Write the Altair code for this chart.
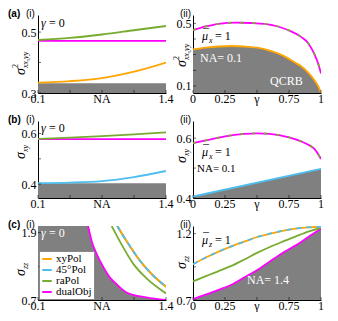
import altair as alt
import pandas as pd

SERIF = "Liberation Serif"
SANS = "Liberation Sans"
ORANGE = "#FFA500"
BLUE = "#4DBEEE"
GREEN = "#77AC30"
MAGENTA = "#FF00FF"
GRAY = "#808080"

W = 128
H_A, H_B, H_C = 78, 77, 74

# x tick positions and their labels
na_ticks = [0.1, 0.425, 0.75, 1.075, 1.4]
na_labels = ["0.1", "", "NA", "", "1.4"]
gamma_ticks = [0, 0.25, 0.5, 0.75, 1]
gamma_labels = ["0", "0.25", "γ", "0.75", "1"]

# ---------------- (a)(i)
a1_na = [0.1, 0.425, 0.75, 1.075, 1.4]
a1_xyPol = [0.334, 0.339, 0.349, 0.370, 0.400]
a1_raPol = [0.474, 0.481, 0.492, 0.506, 0.520]
a1_dualObj = [0.471, 0.471, 0.471, 0.471, 0.471]
a1_bound = [0.332, 0.332, 0.332, 0.332, 0.332]
a1_ydom = [0.3, 0.556]
a1_ylab = [0.3, 0.5]
a1_ytick = [0.3, 0.4, 0.5]

# ---------------- (a)(ii)
a2_gb = [0, 0.1, 0.2, 0.3, 0.4, 0.5, 0.6, 0.7, 0.8, 0.85, 0.9, 0.95, 0.98, 1.0]
a2_bound = [0.334, 0.345, 0.352, 0.355, 0.352, 0.344, 0.325, 0.295, 0.248, 0.223, 0.185, 0.135, 0.095, 0.055]
a2_g = [0, 0.1, 0.2, 0.33, 0.45, 0.56, 0.67, 0.77, 0.85, 0.9, 0.95, 0.975, 1.0]
a2_ra_dual = [0.457, 0.480, 0.497, 0.504, 0.502, 0.496, 0.478, 0.447, 0.410, 0.373, 0.300, 0.250, 0.180]
a2_ydom = [0.055, 0.553]
a2_ylab = [0.1, 0.5]
a2_ytick = [0.1, 0.2, 0.3, 0.4, 0.5]

# ---------------- (b)(i)
b1_na = [0.1, 0.425, 0.75, 1.075, 1.4]
b1_45Pol = [0.404, 0.406, 0.412, 0.428, 0.452]
b1_raPol = [0.579, 0.584, 0.590, 0.597, 0.605]
b1_dualObj = [0.578, 0.578, 0.578, 0.578, 0.578]
b1_bound = [0.403, 0.403, 0.403, 0.403, 0.403]
b1_ydom = [0.345, 0.65]
b1_ylab = [0.4, 0.6]
b1_ytick = [0.4, 0.5, 0.6]

# ---------------- (b)(ii)
b2_g = [0, 0.1, 0.25, 0.4, 0.5, 0.6, 0.75, 0.85, 0.9, 0.95, 1.0]
b2_ra_dual = [0.583, 0.592, 0.606, 0.614, 0.616, 0.614, 0.602, 0.588, 0.578, 0.563, 0.530]
b2_gb = [0, 1]
b2_45Pol = [0.405, 0.497]
b2_ydom = [0.4, 0.657]
b2_ylab = [0.4, 0.6]
b2_ytick = [0.4, 0.5, 0.6]

# ---------------- (c)(i)
c1_nab = [0.1, 0.608, 0.65, 0.696, 0.75, 0.831, 0.9, 1.0, 1.2, 1.4]
c1_bound = [2.02, 2.02, 1.72, 1.52, 1.33, 1.10, 0.98, 0.835, 0.746, 0.70]
c1_na_dual = [0.608, 0.65, 0.696, 0.75, 0.831, 0.9, 1.0, 1.2, 1.4]
c1_dualObj = [2.02, 1.72, 1.52, 1.33, 1.10, 0.98, 0.835, 0.746, 0.70]
c1_na_ra = [0.848, 0.93, 1.07, 1.2, 1.4]
c1_raPol = [2.02, 1.75, 1.34, 1.09, 0.817]
c1_na_xy = [0.905, 1.0, 1.136, 1.25, 1.4]
c1_xyPol = [2.02, 1.75, 1.40, 1.17, 0.936]
c1_ydom = [0.7, 2.02]
c1_ylab = [0.7, 1.9]
c1_ytick = [0.7, 1.3, 1.9]

# ---------------- (c)(ii)
c2_g = [0, 0.1, 0.2, 0.3, 0.4, 0.5, 0.6, 0.7, 0.8, 0.9, 1.0]
c2_xyPol = [0.970, 1.020, 1.065, 1.105, 1.140, 1.175, 1.200, 1.222, 1.238, 1.248, 1.252]
c2_raPol = [0.840, 0.880, 0.918, 0.957, 1.005, 1.055, 1.100, 1.140, 1.178, 1.215, 1.245]
c2_dualObj = [0.707, 0.740, 0.776, 0.815, 0.870, 0.925, 0.990, 1.055, 1.110, 1.175, 1.238]
c2_ydom = [0.7, 1.258]
c2_ylab = [0.7, 1.2]
c2_ytick = [0.7, 0.95, 1.2]

legend_names = ["xyPol", "45°Pol", "raPol", "dualObj"]
legend_colors = [ORANGE, BLUE, GREEN, MAGENTA]

LABEL_SIZE = 12


def sc(dom):
    return alt.Scale(domain=dom, nice=False, zero=False)


def x_axis(vals):
    return alt.Axis(values=vals, title=None, ticks=False, grid=False, labels=False,
                    domainColor="black", domainWidth=1)


def y_axis(vals):
    return alt.Axis(values=vals, title=None, ticks=False, grid=False,
                    domainColor="black", domainWidth=1, labelFont=SERIF,
                    labelFontSize=LABEL_SIZE, labelColor="black", labelPadding=2,
                    labelOverlap=False, format=".1f")


def area(xs, ys, xdom, ydom, H, xvals, ylab):
    df = pd.DataFrame({"x": xs, "y": ys})
    return alt.Chart(df).mark_area(color=GRAY, opacity=1, clip=True, interpolate="monotone").encode(
        x=alt.X("x:Q", scale=sc(xdom), axis=x_axis(xvals)),
        y=alt.Y("y:Q", scale=sc(ydom), axis=y_axis(ylab)),
        y2=alt.value(H))


def xlabels(vals, labs, xdom, H):
    df = pd.DataFrame({"x": vals, "lab": labs})
    return alt.Chart(df).mark_text(baseline="top", align="center", font=SERIF,
                                   fontSize=LABEL_SIZE, color="black").encode(
        x=alt.X("x:Q", scale=sc(xdom)), y=alt.value(H + 1), text="lab:N")


def line(xs, ys, color, xdom, ydom, dash=None, width=1.8):
    df = pd.DataFrame({"x": xs, "y": ys})
    kw = dict(color=color, strokeWidth=width, clip=True, interpolate="monotone")
    if dash is not None:
        kw["strokeDash"] = dash
    return alt.Chart(df).mark_line(**kw).encode(
        x=alt.X("x:Q", scale=sc(xdom)),
        y=alt.Y("y:Q", scale=sc(ydom)))


def ticks(xt, yt, xdom, ydom, H):
    xl = alt.Chart(pd.DataFrame({"x": xt})).mark_tick(
        orient="vertical", size=3, thickness=0.8, color="black", yOffset=-1.5).encode(
        x=alt.X("x:Q", scale=sc(xdom)), y=alt.value(H))
    yl = alt.Chart(pd.DataFrame({"y": yt})).mark_tick(
        orient="horizontal", size=3, thickness=0.8, color="black", xOffset=1.5).encode(
        y=alt.Y("y:Q", scale=sc(ydom)), x=alt.value(0))
    return [xl, yl]


def txt(s, x, y, size=11, color="black", font=SERIF, style="normal", weight="normal",
        align="left", angle=0):
    return alt.Chart(pd.DataFrame({"t": [s]})).mark_text(
        align=align, baseline="alphabetic", font=font, fontSize=size, fontStyle=style,
        fontWeight=weight, color=color, angle=angle).encode(
        text="t:N", x=alt.value(x), y=alt.value(y))


def ytitle(sub, sup, bx, y0):
    parts = [txt("σ", bx, y0, size=14, style="italic", angle=270)]
    if sup:
        parts.append(txt(sup, bx - 7, y0 - 7, size=8, angle=270))
    parts.append(txt(sub, bx + 3, y0 - 7, size=8, style="italic", angle=270))
    return parts


def mubar(sub, x, y, color="black"):
    return [txt("μ", x, y, size=12, style="italic", color=color),
            txt("¯", x + 1, y - 2, size=12, color=color),
            txt(sub, x + 7, y + 3, size=8, style="italic", color=color),
            txt("= 1", x + 13, y, size=12, color=color)]


def gamma0(x, y, color="black"):
    return [txt("γ", x, y, size=12, style="italic", color=color),
            txt("= 0", x + 8, y, size=12, color=color)]


def tag(letter, roman):
    out = []
    if letter:
        out.append(txt(letter, -30, 2, size=10, font=SANS, weight="bold"))
        out.append(txt(roman, -12, 2, size=10, font=SANS))
    else:
        out.append(txt(roman, -13, 2, size=10, font=SANS))
    return out


NA_DOM = [0.1, 1.4]
G_DOM = [0, 1]

# ---- panel a(i)
pa1 = alt.layer(
    area(a1_na, a1_bound, NA_DOM, a1_ydom, H_A, na_ticks, a1_ylab),
    line(a1_na, a1_xyPol, ORANGE, NA_DOM, a1_ydom),
    line(a1_na, a1_dualObj, MAGENTA, NA_DOM, a1_ydom),
    line(a1_na, a1_raPol, GREEN, NA_DOM, a1_ydom),
    *ticks(na_ticks, a1_ytick, NA_DOM, a1_ydom, H_A),
    xlabels(na_ticks, na_labels, NA_DOM, H_A),
    *gamma0(3, 12),
    *ytitle("xx,yy", "2", -13, 60),
    *tag("(a)", "(i)"),
).properties(width=W, height=H_A)

# ---- panel a(ii)
pa2 = alt.layer(
    area(a2_gb, a2_bound, G_DOM, a2_ydom, H_A, gamma_ticks, a2_ylab),
    line(a2_gb, a2_bound, ORANGE, G_DOM, a2_ydom),
    line(a2_g, a2_ra_dual, MAGENTA, G_DOM, a2_ydom),
    line(a2_g, a2_ra_dual, GREEN, G_DOM, a2_ydom, dash=[3, 9]),
    *ticks(gamma_ticks, a2_ytick, G_DOM, a2_ydom, H_A),
    xlabels(gamma_ticks, gamma_labels, G_DOM, H_A),
    *mubar("x", 9, 25),
    txt("NA= 0.1", 7, 47, size=12, color="white"),
    txt("QCRB", 77, 70, size=12, color="white"),
    *ytitle("xx,yy", "2", -7, 52),
    *tag(None, "(ii)"),
).properties(width=W, height=H_A)

# ---- panel b(i)
pb1 = alt.layer(
    area(b1_na, b1_bound, NA_DOM, b1_ydom, H_B, na_ticks, b1_ylab),
    line(b1_na, b1_45Pol, BLUE, NA_DOM, b1_ydom),
    line(b1_na, b1_dualObj, MAGENTA, NA_DOM, b1_ydom),
    line(b1_na, b1_raPol, GREEN, NA_DOM, b1_ydom),
    *ticks(na_ticks, b1_ytick, NA_DOM, b1_ydom, H_B),
    xlabels(na_ticks, na_labels, NA_DOM, H_B),
    *gamma0(3, 11),
    *ytitle("xy", None, -13, 38),
    *tag("(b)", "(i)"),
).properties(width=W, height=H_B)

# ---- panel b(ii)
pb2 = alt.layer(
    area(b2_gb, b2_45Pol, G_DOM, b2_ydom, H_B, gamma_ticks, b2_ylab),
    line(b2_gb, b2_45Pol, BLUE, G_DOM, b2_ydom),
    line(b2_g, b2_ra_dual, MAGENTA, G_DOM, b2_ydom),
    line(b2_g, b2_ra_dual, GREEN, G_DOM, b2_ydom, dash=[3, 9]),
    *ticks(gamma_ticks, b2_ytick, G_DOM, b2_ydom, H_B),
    xlabels(gamma_ticks, gamma_labels, G_DOM, H_B),
    *mubar("x", 9, 35),
    txt("NA= 0.1", 4, 51, size=11),
    *ytitle("xy", None, -7, 42),
    *tag(None, "(ii)"),
).properties(width=W, height=H_B)

# ---- panel c(i)
c1_leg_df = pd.DataFrame({
    "x": c1_na_xy + c1_na_xy + c1_na_ra + c1_na_dual,
    "y": c1_xyPol + c1_xyPol + c1_raPol + c1_dualObj,
    "s": ["xyPol"] * len(c1_na_xy) + ["45°Pol"] * len(c1_na_xy)
         + ["raPol"] * len(c1_na_ra) + ["dualObj"] * len(c1_na_dual),
})
c1_lines = alt.Chart(c1_leg_df).mark_line(strokeWidth=1.8, clip=True, interpolate="monotone").encode(
    x=alt.X("x:Q", scale=sc(NA_DOM)),
    y=alt.Y("y:Q", scale=sc(c1_ydom)),
    color=alt.Color("s:N", scale=alt.Scale(domain=legend_names, range=legend_colors),
                    legend=alt.Legend(orient="bottom-left", offset=1, title=None,
                                      fillColor="white", strokeColor="#888888",
                                      padding=2, symbolType="stroke",
                                      symbolStrokeWidth=2, symbolSize=90,
                                      labelFont=SERIF, labelFontSize=11,
                                      labelColor="black", rowPadding=0,
                                      labelOffset=3, cornerRadius=0)))
pc1 = alt.layer(
    area(c1_nab, c1_bound, NA_DOM, c1_ydom, H_C, na_ticks, c1_ylab),
    c1_lines,
    line(c1_na_xy, c1_xyPol, ORANGE, NA_DOM, c1_ydom),
    line(c1_na_xy, c1_xyPol, BLUE, NA_DOM, c1_ydom, dash=[5, 5]),
    *ticks(na_ticks, c1_ytick, NA_DOM, c1_ydom, H_C),
    xlabels(na_ticks, na_labels, NA_DOM, H_C),
    *gamma0(3, 11, color="white"),
    *ytitle("zz", None, -13, 50),
    *tag("(c)", "(i)"),
).properties(width=W, height=H_C)

# ---- panel c(ii)
pc2 = alt.layer(
    area(c2_g, c2_dualObj, G_DOM, c2_ydom, H_C, gamma_ticks, c2_ylab),
    line(c2_g, c2_dualObj, MAGENTA, G_DOM, c2_ydom),
    line(c2_g, c2_raPol, GREEN, G_DOM, c2_ydom),
    line(c2_g, c2_xyPol, ORANGE, G_DOM, c2_ydom),
    line(c2_g, c2_xyPol, BLUE, G_DOM, c2_ydom, dash=[5, 5]),
    *ticks(gamma_ticks, c2_ytick, G_DOM, c2_ydom, H_C),
    xlabels(gamma_ticks, gamma_labels, G_DOM, H_C),
    *mubar("z", 9, 18),
    txt("NA= 1.4", 54, 58, size=12, color="white"),
    *ytitle("zz", None, -7, 43),
    *tag(None, "(ii)"),
).properties(width=W, height=H_C)

chart = alt.concat(pa1, pa2, pb1, pb2, pc1, pc2, columns=2,
                   spacing={"row": 28, "column": 27}, bounds="flush").resolve_scale(
    color="independent").properties(
    padding={"left": 0, "top": 1, "right": 0, "bottom": 0}
).configure_view(stroke=None).configure_axis(labelOverlap=False)

chart.save("out.html", embed_options={"renderer": "svg", "actions": False})
